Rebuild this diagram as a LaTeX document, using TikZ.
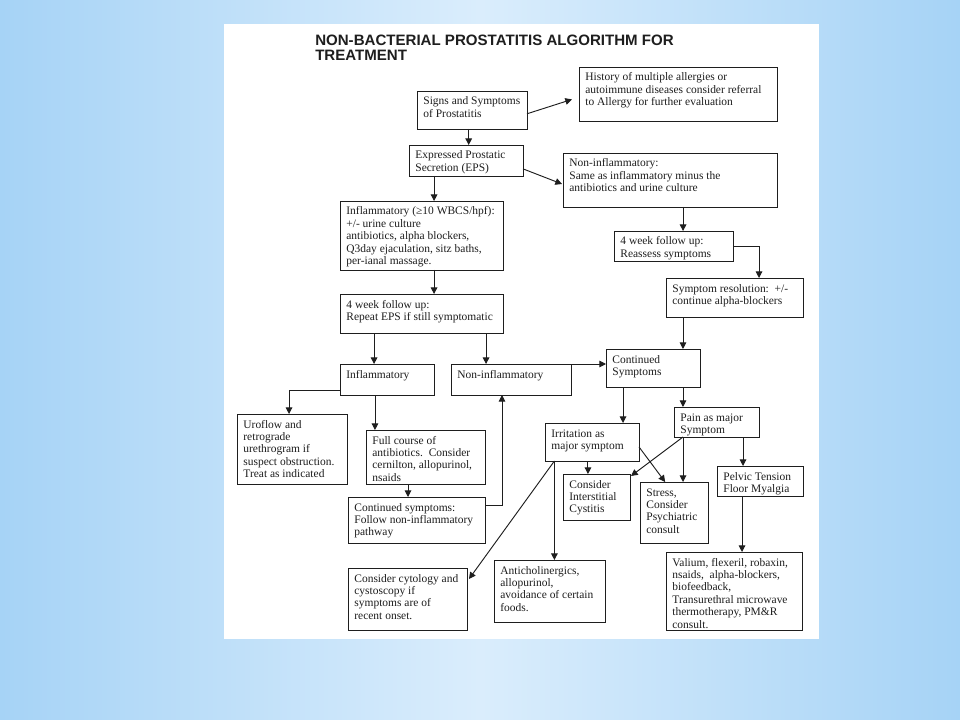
\documentclass[tikz,border=0pt]{standalone}
\usepackage{fontspec}
\setmainfont{Liberation Serif}
\newfontfamily\titlefont{Liberation Sans}
\usetikzlibrary{arrows.meta,calc}
\definecolor{bgblue}{HTML}{A6D3F6}
\definecolor{bglight}{HTML}{DAEDFC}
\definecolor{ink}{HTML}{1E1E1E}
\newcommand\boxtxt[3]{\begin{minipage}[t][#2][t]{#1}\raggedright\leftskip=4.8pt\relax\rule{0pt}{10.5pt}#3\end{minipage}}
\newcommand\bx[6]{%
  \pgfmathsetmacro\bw{(#4-#2)*0.75}\pgfmathsetmacro\bh{(#5-#3)*0.75}%
  \node[box, anchor=north west] (#1) at (#2,#3) {\boxtxt{\bw pt}{\bh pt}{#6}};}
\newcommand\vdn[3]{\coordinate (t) at ($(#1.south west)!#2!(#1.south east)$);
  \draw[arr] (t) -- (t |- #3.north);}
\begin{document}
\begin{tikzpicture}[x=0.75pt,y=-0.75pt,
  box/.style={draw=ink, line width=0.7pt, inner sep=0pt, outer sep=0pt,
    font=\fontsize{8.6}{9.3}\selectfont, text=ink},
  arr/.style={draw=ink, line width=0.7pt, -{Triangle[length=5pt,width=5pt]}},
  ttl/.style={inner sep=0pt, anchor=base west, text=ink, font=\titlefont\bfseries\fontsize{11.3}{12}\selectfont}]
\useasboundingbox (0,0) rectangle (960,720);
\shade[left color=bgblue, right color=bgblue, middle color=bglight] (0,0) rectangle (960,720);
\fill[white] (224,24) rectangle (819,639);

\node[ttl] (title1) at (315,46) {NON-BACTERIAL PROSTATITIS ALGORITHM FOR};
\node[ttl] (title2) at (315,61) {TREATMENT};

\bx{Signs}{417}{91}{527}{129}{Signs and Symptoms\\of Prostatitis}
\bx{History}{579}{67}{777}{121}{History of multiple allergies or\\autoimmune diseases consider referral\\to Allergy for further evaluation}
\bx{EPS}{409}{145}{523}{176}{Expressed Prostatic\\Secretion (EPS)}
\bx{NIB}{563}{153}{777}{207}{Non-inflammatory:\\Same as inflammatory minus the\\antibiotics and urine culture}
\bx{IB}{340}{201}{503}{270}{Inflammatory (≥10 WBCS/hpf):\\+/- urine culture\\antibiotics, alpha blockers,\\Q3day ejaculation, sitz baths,\\per-ianal massage.}
\bx{WkL}{340}{294}{503}{333}{4 week follow up:\\Repeat EPS if still symptomatic}
\bx{WkR}{614}{231}{733}{261}{4 week follow up:\\Reassess symptoms}
\bx{SymRes}{666}{278}{803}{317}{Symptom resolution:\ \ +/-\\continue alpha-blockers}
\bx{CS}{606}{349}{700}{387}{Continued\\Symptoms}
\bx{IS}{340}{364}{434}{395}{Inflammatory}
\bx{NIS}{451}{364}{571}{395}{Non-inflammatory}
\bx{Uro}{237}{414}{347}{484}{Uroflow and\\retrograde\\urethrogram if\\suspect obstruction.\\Treat as indicated}
\bx{Full}{366}{430}{485}{484}{Full course of\\antibiotics.\ \ Consider\\cernilton, allopurinol,\\nsaids}
\bx{ContL}{348}{497}{485}{543}{Continued symptoms:\\Follow non-inflammatory\\pathway}
\bx{Irr}{545}{423}{639}{461}{Irritation as\\major symptom}
\bx{Pain}{674}{407}{759}{437}{Pain as major\\Symptom}
\bx{Inter}{563}{474}{630}{520}{Consider\\Interstitial\\Cystitis}
\bx{Stress}{640}{482}{708}{543}{Stress,\\Consider\\Psychiatric\\consult}
\bx{Pelvic}{717}{466}{803}{496}{Pelvic Tension\\Floor Myalgia}
\bx{Cyto}{348}{568}{467}{630}{Consider cytology and\\cystoscopy if\\symptoms are of\\recent onset.}
\bx{Anti}{494}{560}{605}{622}{Anticholinergics,\\allopurinol,\\avoidance of certain\\foods.}
\bx{Val}{666}{552}{802}{630}{Valium, flexeril, robaxin,\\nsaids,\ \ alpha-blockers,\\biofeedback,\\Transurethral microwave\\thermotherapy, PM\&R\\consult.}

% connectors
\coordinate (s) at ($(Signs.north east)!.6!(Signs.south east)$);
\coordinate (h) at ($(History.north west)!.6!(History.south west)$);
\draw[arr] (s) -- ($(h)+(-7,0)$);
\vdn{Signs}{.47}{EPS}
\coordinate (s) at ($(EPS.north east)!.77!(EPS.south east)$);
\coordinate (h) at ($(NIB.north west)!.574!(NIB.south west)$);
\draw[arr] (s) -- ($(h)+(-1,0)$);
\vdn{EPS}{.22}{IB}
\vdn{IB}{.577}{WkL}
\vdn{WkL}{.209}{IS}
\vdn{WkL}{.896}{NIS}
\vdn{NIB}{.561}{WkR}
\coordinate (t) at ($(SymRes.north west)!.679!(SymRes.north east)$);
\draw[arr] (WkR.east) -| (t);
\vdn{SymRes}{.124}{CS}
\draw[arr] (NIS.north east) -- (NIS.north east -| CS.west);
\coordinate (s) at ($(IS.north west)!.84!(IS.south west)$);
\coordinate (t) at ($(Uro.north west)!.473!(Uro.north east)$);
\draw[arr] (s) -| (t);
\vdn{IS}{.372}{Full}
\vdn{Full}{.353}{ContL}
\coordinate (s) at ($(ContL.north east)!.174!(ContL.south east)$);
\coordinate (t) at ($(NIS.south west)!.425!(NIS.south east)$);
\draw[arr] (s) -| (t);
\vdn{CS}{.181}{Irr}
\vdn{CS}{.819}{Pain}
\vdn{Irr}{.457}{Inter}
\coordinate (s) at ($(Irr.south west)!.1!(Irr.south east)$);
\coordinate (t) at ($(Cyto.north east)!.177!(Cyto.south east)$);
\draw[arr] (s) -- ($(t)+(2,0)$);
\draw[arr] (s) -- (s |- Anti.north);
\coordinate (s) at ($(Irr.north east)!.63!(Irr.south east)$);
\coordinate (t) at ($(Stress.north west)!.37!(Stress.north east)$);
\draw[arr] (s) -- (t);
\coordinate (s) at ($(Pain.south west)!.106!(Pain.south east)$);
\draw[arr] (s) -- ($(Inter.north east)+(1,2)$);
\draw[arr] (s) -- (s |- Stress.north);
\vdn{Pain}{.812}{Pelvic}
\vdn{Pelvic}{.291}{Val}
\end{tikzpicture}
\end{document}
